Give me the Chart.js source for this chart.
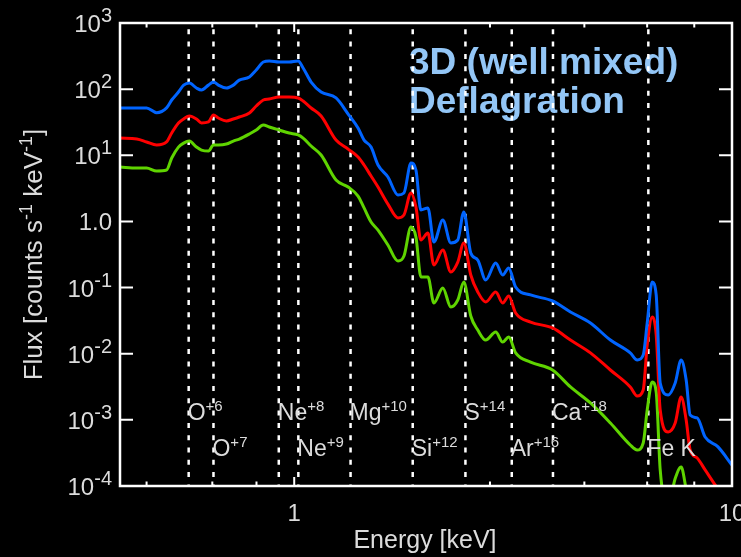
<!DOCTYPE html>
<html>
<head>
<meta charset="utf-8">
<script src="https://cdn.jsdelivr.net/npm/chart.js@4"></script>
<style>
  html, body { margin: 0; padding: 0; background: #000; }
  canvas { display: block; }
</style>
</head>
<body>
<canvas id="spectrum" width="741" height="557"></canvas>
<script>
// model spectra: energy in keV, flux in counts s^-1 keV^-1
const energy = [0.40, 0.437, 0.46, 0.485, 0.511, 0.525, 0.544, 0.559, 0.576, 0.598,
  0.614, 0.637, 0.654, 0.671, 0.700, 0.726, 0.749, 0.790, 0.819, 0.850,
  0.877, 0.924, 0.974, 1.021, 1.048, 1.093, 1.152, 1.246, 1.328, 1.399,
  1.444, 1.498, 1.554, 1.637, 1.726, 1.781, 1.848, 1.897, 1.947, 2.020,
  2.085, 2.185, 2.279, 2.364, 2.440, 2.531, 2.626, 2.738, 2.886, 2.994,
  3.090, 3.205, 3.467, 3.891, 4.276, 4.750, 5.275, 5.856, 6.074, 6.269,
  6.402, 6.572, 6.712, 6.855, 7.149, 7.417, 7.654, 7.858, 8.024, 8.325,
  8.682, 9.291, 10.0];

const fluxBlue = [52, 52, 52, 44, 52, 68.5, 90.5, 115, 124, 104,
  97, 115, 128, 115, 104, 115, 137, 153, 195, 257,
  266, 257, 257, 266, 209, 128, 90.5, 73.5, 42, 25.8,
  17.0, 13.3, 7.13, 4.70, 2.51, 2.69, 7.64, 5.99, 1.49, 1.60,
  0.489, 1.05, 0.472, 0.524, 1.39, 0.333, 0.261, 0.130, 0.235, 0.155,
  0.198, 0.102, 0.0773, 0.0627, 0.0427, 0.0291, 0.0161, 0.0103, 0.00803, 0.00955,
  0.0291, 0.121, 0.0773, 0.00361, 0.00238, 0.00361, 0.00803, 0.0040, 0.00118, 0.00107,
  0.00055, 0.00039, 0.000207];

const fluxRed = [18.2, 17.6, 15.9, 14.3, 15.9, 21.7, 30.8, 35.4, 39.3, 35.4,
  30.8, 31.9, 40.6, 36.6, 33.0, 35.4, 37.9, 43.6, 55.6, 68.5,
  71, 76, 76, 73.5, 66, 51.9, 39.3, 17.0, 12.4, 9.42,
  7.13, 4.86, 3.31, 1.83, 1.13, 1.25, 2.69, 1.65, 0.524, 0.668,
  0.219, 0.370, 0.172, 0.243, 0.472, 0.155, 0.0857, 0.0605, 0.0857, 0.0585,
  0.0745, 0.0412, 0.0301, 0.0245, 0.0161, 0.0103, 0.00567, 0.00314, 0.00229, 0.00282,
  0.0135, 0.0359, 0.0192, 0.00141, 0.000655, 0.000895, 0.00221, 0.000995, 0.00035, 0.000265,
  0.000175, 0.00009, 0.00005];

const fluxGreen = [6.65, 6.42, 6.42, 5.78, 5.98, 9.1, 13.3, 15.3, 16.4, 13.3,
  12.0, 11.6, 14.3, 14.3, 14.8, 16.4, 17.6, 21.0, 24.1, 28.7,
  26.8, 24.1, 21.7, 20.3, 18.2, 13.8, 10.1, 4.23, 3.31, 2.42,
  1.60, 0.98, 0.741, 0.44, 0.252, 0.300, 0.824, 0.581, 0.145, 0.145,
  0.0585, 0.0985, 0.0508, 0.0649, 0.121, 0.0372, 0.0228, 0.0161, 0.0213, 0.0150,
  0.0179, 0.0103, 0.00748, 0.00567, 0.00314, 0.0018, 0.000895, 0.000417, 0.00035, 0.000447,
  0.00141, 0.00373, 0.00264, 0.000175, 0.00005, 0.00013, 0.000194, 0.00009, 0.00005, 0.00005,
  0.00005, 0.00005, 0.00005];

// emission lines marked with dotted verticals
const lineEnergy = [0.574, 0.654, 0.922, 1.022, 1.345, 1.865, 2.461, 3.14, 3.90, 6.44];
const lineIon = ['O', 'O', 'Ne', 'Ne', 'Mg', 'Si', 'S', 'Ar', 'Ca', 'Fe K'];
const lineCharge = ['+6', '+7', '+8', '+9', '+10', '+12', '+14', '+16', '+18', ''];
const lineRow = [0, 1, 0, 1, 0, 1, 0, 1, 0, 1];

// axis ticks
const yTicks = [1e3, 1e2, 1e1, 1, 1e-1, 1e-2, 1e-3, 1e-4];
const yTickBase = ['10', '10', '10', '1.0', '10', '10', '10', '10'];
const yTickExp = ['3', '2', '1', '', '-1', '-2', '-3', '-4'];
const xMajorTicks = [1, 10];
const xMajorLabels = ['1', '10'];
const xMinorTicks = [0.46, 0.65, 0.82, 2.8, 4.6, 6.4, 8.2];

const FONT = '"Liberation Sans", Arial, Helvetica, sans-serif';
const TEXT = '#dcdcdc';

function spectrum(ys, colour) {
  return {
    data: energy.map((e, i) => ({ x: e, y: ys[i] })),
    borderColor: colour,
    borderWidth: 3,
    pointRadius: 0,
    cubicInterpolationMode: 'monotone',
    order: 1
  };
}

const lineSets = lineEnergy.map(e => ({
  data: [{ x: e, y: 1e3 }, { x: e, y: 1e-4 }],
  borderColor: '#ffffff',
  borderWidth: 2.5,
  borderDash: [5, 7.3],
  borderDashOffset: 6,
  pointRadius: 0,
  order: 5
}));

// draw runs of text, some of them raised as exponents
function drawRuns(ctx, runs, x, y, align, size, supSize, rise) {
  const fonts = [size + 'px ' + FONT, supSize + 'px ' + FONT];
  let w = 0;
  runs.forEach(([t, s]) => { ctx.font = fonts[s]; w += ctx.measureText(t).width; });
  let cx = align === 'right' ? x - w : align === 'center' ? x - w / 2 : x;
  ctx.textAlign = 'left';
  ctx.textBaseline = 'alphabetic';
  runs.forEach(([t, s]) => {
    ctx.font = fonts[s];
    ctx.fillText(t, cx, s ? y - rise : y);
    cx += ctx.measureText(t).width;
  });
}

const axesPlugin = {
  id: 'axes',
  beforeDatasetsDraw(chart) {
    const { ctx, chartArea: a } = chart;
    ctx.save();
    ctx.fillStyle = '#93c6f6';
    ctx.font = 'bold 37px ' + FONT;
    ctx.textAlign = 'left';
    ctx.textBaseline = 'alphabetic';
    ctx.fillText('3D (well mixed)', a.left + 289, a.top + 51);
    ctx.fillText('Deflagration', a.left + 289, a.top + 90);
    ctx.restore();
  },
  afterDatasetsDraw(chart) {
    const { ctx, chartArea: a, scales: { x, y } } = chart;
    ctx.save();

    // frame and inward ticks
    ctx.strokeStyle = '#ffffff';
    ctx.lineWidth = 2.5;
    ctx.strokeRect(a.left, a.top, a.right - a.left, a.bottom - a.top);
    ctx.lineWidth = 2;
    ctx.beginPath();
    yTicks.forEach(v => {
      const py = y.getPixelForValue(v);
      ctx.moveTo(a.left, py); ctx.lineTo(a.left + 13, py);
      ctx.moveTo(a.right, py); ctx.lineTo(a.right - 13, py);
    });
    xMajorTicks.forEach(v => {
      const px = x.getPixelForValue(v);
      ctx.moveTo(px, a.top); ctx.lineTo(px, a.top + 9);
      ctx.moveTo(px, a.bottom); ctx.lineTo(px, a.bottom - 9);
    });
    xMinorTicks.forEach(v => {
      const px = x.getPixelForValue(v);
      ctx.moveTo(px, a.top); ctx.lineTo(px, a.top + 4.5);
      ctx.moveTo(px, a.bottom); ctx.lineTo(px, a.bottom - 4.5);
    });
    ctx.stroke();

    ctx.fillStyle = TEXT;

    // tick labels
    yTicks.forEach((v, i) => {
      const py = y.getPixelForValue(v);
      const runs = yTickExp[i] ? [[yTickBase[i], 0], [yTickExp[i], 1]] : [[yTickBase[i], 0]];
      drawRuns(ctx, runs, a.left - 8, py + 9, 'right', 24, 20, 10);
    });
    xMajorTicks.forEach((v, i) => {
      drawRuns(ctx, [[xMajorLabels[i], 0]], x.getPixelForValue(v), a.bottom + 35, 'center', 24, 20, 10);
    });

    // axis titles
    drawRuns(ctx, [['Energy [keV]', 0]], 425, a.bottom + 62, 'center', 25, 18, 10);
    ctx.save();
    ctx.translate(42, (a.top + a.bottom) / 2);
    ctx.rotate(-Math.PI / 2);
    drawRuns(ctx, [['Flux [counts s', 0], ['-1', 1], [' keV', 0], ['-1', 1], [']', 0]], 0, 0, 'center', 26, 18, 10);
    ctx.restore();

    // ion labels beside the dotted lines
    lineEnergy.forEach((e, i) => {
      const px = x.getPixelForValue(e);
      const base = lineRow[i] ? a.bottom - 30 : a.bottom - 66;
      const runs = lineCharge[i] ? [[lineIon[i], 0], [lineCharge[i], 1]] : [[lineIon[i], 0]];
      drawRuns(ctx, runs, px - 1, base, 'left', 23, 15, 9);
    });

    ctx.restore();
  }
};

new Chart(document.getElementById('spectrum'), {
  type: 'line',
  data: {
    datasets: [
      spectrum(fluxBlue, '#0064ff'),
      spectrum(fluxRed, '#ff0000'),
      spectrum(fluxGreen, '#5fd400'),
      ...lineSets
    ]
  },
  options: {
    responsive: false,
    animation: false,
    devicePixelRatio: 1,
    layout: { padding: { left: 120, right: 9, top: 23, bottom: 71 } },
    plugins: { legend: { display: false }, tooltip: { enabled: false } },
    scales: {
      x: { type: 'logarithmic', min: 0.4, max: 10, display: false },
      y: { type: 'logarithmic', min: 1e-4, max: 1e3, display: false }
    }
  },
  plugins: [axesPlugin]
});
</script>
</body>
</html>
